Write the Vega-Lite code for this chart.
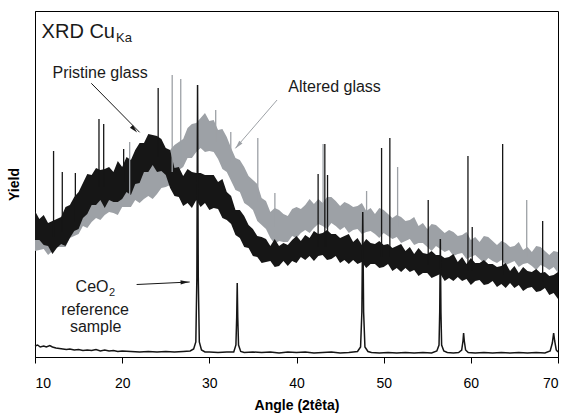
{
"$schema": "https://vega.github.io/schema/vega-lite/v6.json",
"width": 523, "height": 346,
"autosize": "none",
"padding": {"left": 35, "top": 11, "right": 9, "bottom": 59},
"background": "white",
"config": {"view": {"stroke": "#000", "strokeWidth": 1}, "font": "Liberation Sans"},
"datasets": {
"pristine": [{"a":10,"lo":117,"hi":146},{"a":10.5,"lo":117,"hi":138},{"a":11,"lo":112,"hi":142},{"a":11.5,"lo":111,"hi":134},{"a":12,"lo":103,"hi":136},{"a":12.5,"lo":109,"hi":138},{"a":13,"lo":113,"hi":140},{"a":13.5,"lo":111,"hi":150},{"a":14,"lo":119,"hi":152},{"a":14.5,"lo":126,"hi":160},{"a":15,"lo":128,"hi":165},{"a":15.5,"lo":139,"hi":174},{"a":16,"lo":143,"hi":183},{"a":16.5,"lo":152,"hi":182},{"a":17,"lo":152,"hi":189},{"a":17.5,"lo":157,"hi":187},{"a":18,"lo":149,"hi":188},{"a":18.5,"lo":157,"hi":190},{"a":19,"lo":155,"hi":185},{"a":19.5,"lo":155,"hi":196},{"a":20,"lo":158,"hi":190},{"a":20.5,"lo":165,"hi":200},{"a":21,"lo":162,"hi":197},{"a":21.5,"lo":173,"hi":207},{"a":22,"lo":174,"hi":214},{"a":22.5,"lo":185,"hi":214},{"a":23,"lo":185,"hi":223},{"a":23.5,"lo":192,"hi":222},{"a":24,"lo":185,"hi":221},{"a":24.5,"lo":186,"hi":218},{"a":25,"lo":182,"hi":209},{"a":25.5,"lo":169,"hi":207},{"a":26,"lo":161,"hi":189},{"a":26.5,"lo":160,"hi":190},{"a":27,"lo":151,"hi":181},{"a":27.5,"lo":154,"hi":188},{"a":28,"lo":149,"hi":185},{"a":28.5,"lo":157,"hi":184},{"a":29,"lo":150,"hi":184},{"a":29.5,"lo":154,"hi":182},{"a":30,"lo":147,"hi":182},{"a":30.5,"lo":149,"hi":182},{"a":31,"lo":148,"hi":175},{"a":31.5,"lo":139,"hi":178},{"a":32,"lo":137,"hi":165},{"a":32.5,"lo":133,"hi":161},{"a":33,"lo":122,"hi":147},{"a":33.5,"lo":119,"hi":147},{"a":34,"lo":110,"hi":141},{"a":34.5,"lo":109,"hi":132},{"a":35,"lo":101,"hi":128},{"a":35.5,"lo":100,"hi":121},{"a":36,"lo":94,"hi":120},{"a":36.5,"lo":95,"hi":118},{"a":37,"lo":96,"hi":111},{"a":37.5,"lo":90,"hi":118},{"a":38,"lo":91,"hi":111},{"a":38.5,"lo":96,"hi":114},{"a":39,"lo":91,"hi":112},{"a":39.5,"lo":96,"hi":117},{"a":40,"lo":94,"hi":121},{"a":40.5,"lo":100,"hi":116},{"a":41,"lo":97,"hi":122},{"a":41.5,"lo":101,"hi":119},{"a":42,"lo":96,"hi":126},{"a":42.5,"lo":101,"hi":123},{"a":43,"lo":102,"hi":124},{"a":43.5,"lo":97,"hi":127},{"a":44,"lo":98,"hi":123},{"a":44.5,"lo":101,"hi":123},{"a":45,"lo":94,"hi":119},{"a":45.5,"lo":97,"hi":121},{"a":46,"lo":93,"hi":123},{"a":46.5,"lo":97,"hi":115},{"a":47,"lo":93,"hi":119},{"a":47.5,"lo":95,"hi":112},{"a":48,"lo":89,"hi":118},{"a":48.5,"lo":93,"hi":114},{"a":49,"lo":93,"hi":113},{"a":49.5,"lo":89,"hi":116},{"a":50,"lo":90,"hi":112},{"a":50.5,"lo":93,"hi":113},{"a":51,"lo":86,"hi":109},{"a":51.5,"lo":89,"hi":111},{"a":52,"lo":85,"hi":113},{"a":52.5,"lo":89,"hi":106},{"a":53,"lo":85,"hi":110},{"a":53.5,"lo":87,"hi":103},{"a":54,"lo":81,"hi":109},{"a":54.5,"lo":84,"hi":104},{"a":55,"lo":84,"hi":103},{"a":55.5,"lo":79,"hi":106},{"a":56,"lo":81,"hi":102},{"a":56.5,"lo":83,"hi":102},{"a":57,"lo":76,"hi":99},{"a":57.5,"lo":79,"hi":100},{"a":58,"lo":76,"hi":103},{"a":58.5,"lo":80,"hi":95},{"a":59,"lo":76,"hi":100},{"a":59.5,"lo":78,"hi":93},{"a":60,"lo":72,"hi":99},{"a":60.5,"lo":76,"hi":94},{"a":61,"lo":77,"hi":94},{"a":61.5,"lo":72,"hi":97},{"a":62,"lo":73,"hi":93},{"a":62.5,"lo":76,"hi":93},{"a":63,"lo":70,"hi":90},{"a":63.5,"lo":73,"hi":91},{"a":64,"lo":69,"hi":94},{"a":64.5,"lo":74,"hi":86},{"a":65,"lo":69,"hi":91},{"a":65.5,"lo":72,"hi":84},{"a":66,"lo":66,"hi":90},{"a":66.5,"lo":69,"hi":86},{"a":67,"lo":70,"hi":85},{"a":67.5,"lo":65,"hi":88},{"a":68,"lo":66,"hi":84},{"a":68.5,"lo":69,"hi":85},{"a":69,"lo":62,"hi":81},{"a":69.5,"lo":64,"hi":82},{"a":70,"lo":58,"hi":85}],
"altered": [{"a":10,"lo":106,"hi":134},{"a":10.5,"lo":107,"hi":128},{"a":11,"lo":108,"hi":129},{"a":11.5,"lo":102,"hi":131},{"a":12,"lo":106,"hi":125},{"a":12.5,"lo":110,"hi":132},{"a":13,"lo":110,"hi":131},{"a":13.5,"lo":110,"hi":141},{"a":14,"lo":119,"hi":145},{"a":14.5,"lo":121,"hi":147},{"a":15,"lo":123,"hi":149},{"a":15.5,"lo":131,"hi":158},{"a":16,"lo":129,"hi":160},{"a":16.5,"lo":135,"hi":160},{"a":17,"lo":139,"hi":164},{"a":17.5,"lo":137,"hi":170},{"a":18,"lo":142,"hi":164},{"a":18.5,"lo":145,"hi":169},{"a":19,"lo":144,"hi":165},{"a":19.5,"lo":142,"hi":175},{"a":20,"lo":150,"hi":177},{"a":20.5,"lo":150,"hi":177},{"a":21,"lo":150,"hi":176},{"a":21.5,"lo":157,"hi":184},{"a":22,"lo":154,"hi":185},{"a":22.5,"lo":158,"hi":185},{"a":23,"lo":161,"hi":189},{"a":23.5,"lo":158,"hi":195},{"a":24,"lo":163,"hi":189},{"a":24.5,"lo":169,"hi":197},{"a":25,"lo":170,"hi":195},{"a":25.5,"lo":172,"hi":207},{"a":26,"lo":183,"hi":212},{"a":26.5,"lo":187,"hi":215},{"a":27,"lo":190,"hi":218},{"a":27.5,"lo":199,"hi":229},{"a":28,"lo":199,"hi":233},{"a":28.5,"lo":205,"hi":234},{"a":29,"lo":209,"hi":239},{"a":29.5,"lo":205,"hi":244},{"a":30,"lo":206,"hi":236},{"a":30.5,"lo":205,"hi":237},{"a":31,"lo":198,"hi":227},{"a":31.5,"lo":188,"hi":228},{"a":32,"lo":185,"hi":220},{"a":32.5,"lo":176,"hi":209},{"a":33,"lo":167,"hi":199},{"a":33.5,"lo":165,"hi":197},{"a":34,"lo":154,"hi":190},{"a":34.5,"lo":151,"hi":181},{"a":35,"lo":147,"hi":177},{"a":35.5,"lo":136,"hi":173},{"a":36,"lo":132,"hi":159},{"a":36.5,"lo":128,"hi":156},{"a":37,"lo":119,"hi":145},{"a":37.5,"lo":113,"hi":149},{"a":38,"lo":116,"hi":147},{"a":38.5,"lo":115,"hi":143},{"a":39,"lo":115,"hi":141},{"a":39.5,"lo":121,"hi":148},{"a":40,"lo":119,"hi":150},{"a":40.5,"lo":124,"hi":148},{"a":41,"lo":127,"hi":152},{"a":41.5,"lo":124,"hi":158},{"a":42,"lo":129,"hi":153},{"a":42.5,"lo":133,"hi":158},{"a":43,"lo":131,"hi":154},{"a":43.5,"lo":128,"hi":160},{"a":44,"lo":134,"hi":160},{"a":44.5,"lo":131,"hi":156},{"a":45,"lo":127,"hi":151},{"a":45.5,"lo":130,"hi":155},{"a":46,"lo":124,"hi":153},{"a":46.5,"lo":127,"hi":150},{"a":47,"lo":128,"hi":151},{"a":47.5,"lo":123,"hi":154},{"a":48,"lo":125,"hi":146},{"a":48.5,"lo":126,"hi":149},{"a":49,"lo":123,"hi":143},{"a":49.5,"lo":119,"hi":149},{"a":50,"lo":124,"hi":147},{"a":50.5,"lo":121,"hi":143},{"a":51,"lo":118,"hi":139},{"a":51.5,"lo":120,"hi":142},{"a":52,"lo":114,"hi":140},{"a":52.5,"lo":116,"hi":136},{"a":53,"lo":118,"hi":137},{"a":53.5,"lo":112,"hi":140},{"a":54,"lo":114,"hi":131},{"a":54.5,"lo":114,"hi":134},{"a":55,"lo":110,"hi":128},{"a":55.5,"lo":106,"hi":133},{"a":56,"lo":111,"hi":132},{"a":56.5,"lo":108,"hi":128},{"a":57,"lo":105,"hi":124},{"a":57.5,"lo":107,"hi":127},{"a":58,"lo":101,"hi":125},{"a":58.5,"lo":103,"hi":121},{"a":59,"lo":104,"hi":122},{"a":59.5,"lo":98,"hi":125},{"a":60,"lo":100,"hi":117},{"a":60.5,"lo":102,"hi":120},{"a":61,"lo":98,"hi":115},{"a":61.5,"lo":94,"hi":121},{"a":62,"lo":99,"hi":120},{"a":62.5,"lo":96,"hi":116},{"a":63,"lo":94,"hi":112},{"a":63.5,"lo":97,"hi":116},{"a":64,"lo":92,"hi":114},{"a":64.5,"lo":94,"hi":110},{"a":65,"lo":96,"hi":111},{"a":65.5,"lo":90,"hi":115},{"a":66,"lo":93,"hi":107},{"a":66.5,"lo":94,"hi":110},{"a":67,"lo":91,"hi":105},{"a":67.5,"lo":87,"hi":111},{"a":68,"lo":92,"hi":110},{"a":68.5,"lo":90,"hi":106},{"a":69,"lo":87,"hi":102},{"a":69.5,"lo":90,"hi":106},{"a":70,"lo":84,"hi":105}],
"ceo2": [{"a":10,"y":11},{"a":10.3,"y":12},{"a":10.6,"y":10},{"a":11,"y":11},{"a":11.3,"y":10},{"a":11.7,"y":11.5},{"a":12,"y":10},{"a":12.4,"y":9},{"a":12.8,"y":8.5},{"a":13.2,"y":8},{"a":13.6,"y":7.5},{"a":14,"y":8},{"a":14.5,"y":7},{"a":15,"y":7.5},{"a":15.5,"y":6.5},{"a":16,"y":7},{"a":16.5,"y":6.5},{"a":17,"y":7.5},{"a":17.5,"y":6},{"a":18,"y":7},{"a":18.5,"y":6},{"a":19,"y":6.5},{"a":19.5,"y":5.5},{"a":20,"y":6},{"a":21,"y":5.5},{"a":22,"y":5},{"a":23,"y":5.5},{"a":24,"y":5},{"a":25,"y":5.5},{"a":26,"y":5},{"a":27,"y":5.5},{"a":27.8,"y":6},{"a":28.2,"y":8},{"a":28.45,"y":15},{"a":28.57,"y":80},{"a":28.65,"y":272},{"a":28.73,"y":80},{"a":28.85,"y":15},{"a":29.1,"y":7},{"a":29.5,"y":5},{"a":30,"y":5},{"a":31,"y":4.5},{"a":32,"y":5},{"a":32.8,"y":5},{"a":33.05,"y":12},{"a":33.14,"y":40},{"a":33.2,"y":74},{"a":33.26,"y":40},{"a":33.35,"y":12},{"a":33.6,"y":5.5},{"a":34,"y":4.5},{"a":35,"y":5},{"a":36,"y":4.5},{"a":37,"y":5},{"a":38,"y":4},{"a":39,"y":5},{"a":40,"y":4.5},{"a":41,"y":5},{"a":42,"y":4},{"a":43,"y":4.5},{"a":44,"y":5},{"a":45,"y":4},{"a":46,"y":4.5},{"a":47,"y":5.5},{"a":47.35,"y":10},{"a":47.5,"y":45},{"a":47.6,"y":145},{"a":47.7,"y":45},{"a":47.85,"y":10},{"a":48.2,"y":5.5},{"a":48.6,"y":4.5},{"a":49.5,"y":4},{"a":50.5,"y":4.5},{"a":51.5,"y":4},{"a":52.5,"y":4.5},{"a":53.5,"y":4},{"a":54.5,"y":4.5},{"a":55.5,"y":4},{"a":56.1,"y":6},{"a":56.35,"y":12},{"a":56.43,"y":45},{"a":56.5,"y":118},{"a":56.57,"y":45},{"a":56.65,"y":12},{"a":56.9,"y":6},{"a":57.3,"y":4.5},{"a":58,"y":4},{"a":58.6,"y":4.5},{"a":58.95,"y":7},{"a":59.1,"y":16},{"a":59.17,"y":24},{"a":59.25,"y":16},{"a":59.4,"y":7},{"a":59.7,"y":4.5},{"a":60.5,"y":4},{"a":61.5,"y":4.5},{"a":62.5,"y":4},{"a":63.5,"y":4.5},{"a":64.5,"y":4},{"a":65.5,"y":4.5},{"a":66.5,"y":4},{"a":67.5,"y":4.5},{"a":68.5,"y":4},{"a":69.1,"y":6},{"a":69.35,"y":14},{"a":69.5,"y":24},{"a":69.62,"y":16},{"a":69.8,"y":7},{"a":70,"y":5}],
"spikes": [{"a":12.13,"top":206,"base":120,"sample":"Pristine glass"},{"a":13.13,"top":185,"base":125,"sample":"Pristine glass"},{"a":14.63,"top":184,"base":135,"sample":"Pristine glass"},{"a":17.34,"top":238,"base":170,"sample":"Pristine glass"},{"a":17.88,"top":233,"base":170,"sample":"Pristine glass"},{"a":20.17,"top":208,"base":175,"sample":"Pristine glass"},{"a":24.13,"top":269,"base":200,"sample":"Pristine glass"},{"a":42.48,"top":183,"base":110,"sample":"Pristine glass"},{"a":43.25,"top":213,"base":110,"sample":"Pristine glass"},{"a":43.56,"top":182,"base":110,"sample":"Pristine glass"},{"a":49.76,"top":209,"base":100,"sample":"Pristine glass"},{"a":50.71,"top":219,"base":100,"sample":"Pristine glass"},{"a":55.11,"top":157,"base":92,"sample":"Pristine glass"},{"a":59.67,"top":201,"base":86,"sample":"Pristine glass"},{"a":60.16,"top":130,"base":86,"sample":"Pristine glass"},{"a":63.65,"top":213,"base":82,"sample":"Pristine glass"},{"a":68.24,"top":136,"base":75,"sample":"Pristine glass"},{"a":20.86,"top":215,"base":160,"sample":"Altered glass"},{"a":25.74,"top":282,"base":185,"sample":"Altered glass"},{"a":26.72,"top":278,"base":195,"sample":"Altered glass"},{"a":30.73,"top":247,"base":215,"sample":"Altered glass"},{"a":32.46,"top":225,"base":195,"sample":"Altered glass"},{"a":35.56,"top":219,"base":155,"sample":"Altered glass"},{"a":37.52,"top":164,"base":130,"sample":"Altered glass"},{"a":43.05,"top":213,"base":145,"sample":"Altered glass"},{"a":48.04,"top":166,"base":137,"sample":"Altered glass"},{"a":51.6,"top":190,"base":130,"sample":"Altered glass"},{"a":66.41,"top":157,"base":100,"sample":"Altered glass"}],
"arrows": [{"a":16.46,"y":273.7,"a2":22.0,"y2":224.7,"sample":"Pristine glass"},{"a":37.77,"y":257,"a2":32.99,"y2":208.7,"sample":"Altered glass"},{"a":21.66,"y":72.5,"a2":27.75,"y2":75,"sample":"CeO2"}],
"heads": [{"a":21.39,"y":227.6,"sample":"Pristine glass"},{"a":33.3,"y":211.7,"sample":"Altered glass"},{"a":27.18,"y":74.8,"sample":"CeO2"}],
"notes": [{"a":17.47,"y":279,"text":"Pristine glass"},{"a":44.37,"y":265.5,"text":"Altered glass"},{"a":16.9,"y":42,"text":"reference"},{"a":16.96,"y":25,"text":"sample"}]
},
"encoding": {
"x": {"field": "a", "type": "quantitative", "scale": {"domain": [10, 70], "nice": false, "zero": false},
 "axis": {"values": [10,20,30,40,50,60,70], "title": "Angle (2têta)", "grid": false, "tickSize": 6, "tickColor": "#000", "domainColor": "#000", "labelColor": "#000", "labelFontSize": 14, "labelFont": "Liberation Sans", "labelPadding": 13, "titleFont": "Liberation Sans", "titleFontSize": 14, "titleFontWeight": "bold", "titleColor": "#000", "titlePadding": 8}}
},
"layer": [
{"data": {"name": "altered"}, "mark": {"type": "area", "color": "#9da1a6"},
 "encoding": {"y": {"field": "hi", "type": "quantitative", "scale": {"domain": [0, 346], "nice": false}, "axis": {"title": "Yield", "labels": false, "ticks": false, "grid": false, "domainColor": "#000", "titleFont": "Liberation Sans", "titleFontSize": 14, "titleFontWeight": "bold", "titleColor": "#000", "titlePadding": 14}}, "y2": {"field": "lo"}}},
{"data": {"name": "pristine"}, "mark": {"type": "area", "color": "#161616"},
 "encoding": {"y": {"field": "hi", "type": "quantitative"}, "y2": {"field": "lo"}}},
{"data": {"name": "spikes"}, "mark": {"type": "rule", "strokeWidth": 1.3},
 "encoding": {"y": {"field": "top", "type": "quantitative"}, "y2": {"field": "base"},
  "color": {"field": "sample", "type": "nominal", "scale": {"domain": ["Pristine glass", "Altered glass", "CeO2"], "range": ["#161616", "#9da1a6", "#161616"]}, "legend": null}}},
{"data": {"name": "ceo2"}, "mark": {"type": "line", "color": "#161616", "strokeWidth": 1.5},
 "encoding": {"y": {"field": "y", "type": "quantitative"}}},
{"data": {"name": "arrows"}, "mark": {"type": "rule", "strokeWidth": 1},
 "encoding": {"y": {"field": "y", "type": "quantitative"}, "x2": {"field": "a2"}, "y2": {"field": "y2"},
  "color": {"field": "sample", "type": "nominal", "legend": null}}},
{"data": {"name": "heads"}, "transform": [{"filter": "datum.sample == 'Pristine glass'"}],
 "mark": {"type": "point", "shape": "M0,-1L0.5,1L-0.5,1Z", "filled": true, "size": 70, "angle": 137, "opacity": 1, "color": "#161616"},
 "encoding": {"y": {"field": "y", "type": "quantitative"}}},
{"data": {"name": "heads"}, "transform": [{"filter": "datum.sample == 'Altered glass'"}],
 "mark": {"type": "point", "shape": "M0,-1L0.5,1L-0.5,1Z", "filled": true, "size": 70, "angle": 221, "opacity": 1, "color": "#9da1a6"},
 "encoding": {"y": {"field": "y", "type": "quantitative"}}},
{"data": {"name": "heads"}, "transform": [{"filter": "datum.sample == 'CeO2'"}],
 "mark": {"type": "point", "shape": "M0,-1L0.5,1L-0.5,1Z", "filled": true, "size": 70, "angle": 87, "opacity": 1, "color": "#161616"},
 "encoding": {"y": {"field": "y", "type": "quantitative"}}},
{"data": {"name": "notes"}, "mark": {"type": "text", "font": "Liberation Sans", "fontSize": 16, "align": "center", "baseline": "alphabetic", "color": "#1a1a1a"},
 "encoding": {"y": {"field": "y", "type": "quantitative"}, "text": {"field": "text"}}},
{"data": {"values": [{"a": 10.76, "y": 319, "text": "XRD Cu"}]}, "mark": {"type": "text", "font": "Liberation Sans", "fontSize": 20, "align": "left", "baseline": "alphabetic", "color": "#1a1a1a"},
 "encoding": {"y": {"field": "y", "type": "quantitative"}, "text": {"field": "text"}}},
{"data": {"values": [{"a": 19.3, "y": 315.5, "text": "Ka"}]}, "mark": {"type": "text", "font": "Liberation Sans", "fontSize": 13, "align": "left", "baseline": "alphabetic", "color": "#1a1a1a"},
 "encoding": {"y": {"field": "y", "type": "quantitative"}, "text": {"field": "text"}}},
{"data": {"values": [{"a": 14.66, "y": 65, "text": "CeO"}]}, "mark": {"type": "text", "font": "Liberation Sans", "fontSize": 16, "align": "left", "baseline": "alphabetic", "color": "#1a1a1a"},
 "encoding": {"y": {"field": "y", "type": "quantitative"}, "text": {"field": "text"}}},
{"data": {"values": [{"a": 18.5, "y": 61, "text": "2"}]}, "mark": {"type": "text", "font": "Liberation Sans", "fontSize": 11, "align": "left", "baseline": "alphabetic", "color": "#1a1a1a"},
 "encoding": {"y": {"field": "y", "type": "quantitative"}, "text": {"field": "text"}}}
]
}
